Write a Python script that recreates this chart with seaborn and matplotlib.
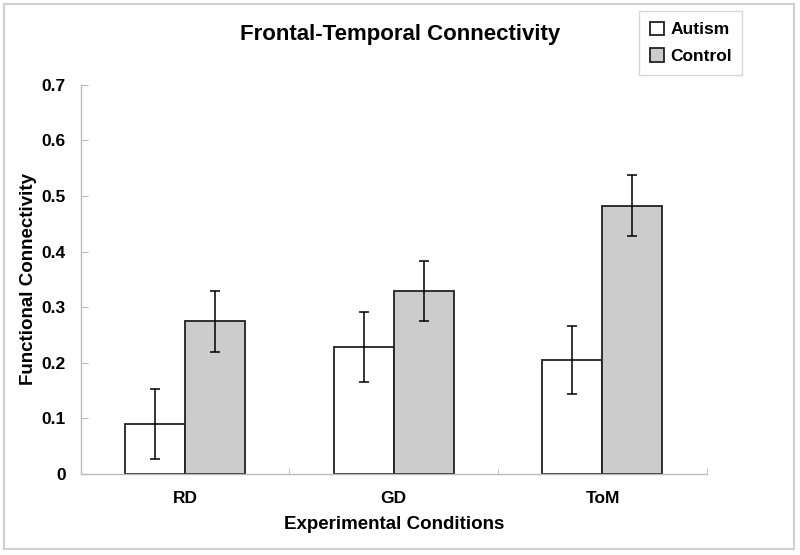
import pandas as pd
import matplotlib
matplotlib.use('Agg')
import matplotlib.pyplot as plt
import seaborn as sns
from matplotlib.patches import Rectangle

conditions = ['RD', 'GD', 'ToM']
groups = ['Autism', 'Control']
autism_mean = [0.090, 0.228, 0.205]
control_mean = [0.275, 0.330, 0.483]
autism_err = [0.063, 0.063, 0.062]
control_err = [0.055, 0.054, 0.055]

df = pd.DataFrame({
    'condition': conditions * 2,
    'group': ['Autism'] * 3 + ['Control'] * 3,
    'value': autism_mean + control_mean,
})
errs = {'Autism': autism_err, 'Control': control_err}

sns.set_style('white')
plt.rcParams['font.family'] = ['Liberation Sans', 'DejaVu Sans']
plt.rcParams['font.weight'] = 'bold'
plt.rcParams['text.color'] = 'black'
plt.rcParams['xtick.labelcolor'] = 'black'
plt.rcParams['ytick.labelcolor'] = 'black'
plt.rcParams['axes.labelcolor'] = 'black'

fig = plt.figure(figsize=(8, 5.55), dpi=100)
ax = fig.add_axes([0.101, 0.146, 0.7825, 0.701])

sns.barplot(data=df, x='condition', y='value', hue='group', order=conditions,
            hue_order=groups, palette={'Autism': 'white', 'Control': '#cccccc'},
            edgecolor='#222222', linewidth=1.3, width=0.575, errorbar=None,
            saturation=1, ax=ax)

for container, g in zip(ax.containers, groups):
    xs = [p.get_x() + p.get_width() / 2 for p in container]
    ys = [p.get_height() for p in container]
    ax.errorbar(xs, ys, yerr=errs[g], fmt='none', ecolor='black',
                elinewidth=1.1, capsize=3.5, capthick=1.1)

ax.set_ylim(0, 0.7)
ax.set_xlim(-0.5, 2.5)
ax.set_yticks([0, 0.1, 0.2, 0.3, 0.4, 0.5, 0.6, 0.7])
ax.set_yticklabels(['0', '0.1', '0.2', '0.3', '0.4', '0.5', '0.6', '0.7'])
ax.set_xticks([-0.5, 0.5, 1.5, 2.5], minor=True)
ax.tick_params(axis='y', which='major', left=True, direction='in', length=5,
               color='#bbbbbb', labelsize=12.5, pad=11)
ax.tick_params(axis='x', which='major', bottom=False, labelsize=12.5, pad=9)
ax.tick_params(axis='x', which='minor', bottom=True, direction='in', length=4,
               color='#bbbbbb')
for s in ['top', 'right']:
    ax.spines[s].set_visible(False)
for s in ['left', 'bottom']:
    ax.spines[s].set_color('#bbbbbb')
    ax.spines[s].set_linewidth(1)

ax.set_xlabel('Experimental Conditions', fontsize=13.5, fontweight='bold', labelpad=7)
ax.set_ylabel('Functional Connectivity', fontsize=13.5, fontweight='bold', labelpad=3)

fig.text(0.5, 0.938, 'Frontal-Temporal Connectivity', ha='center', va='center',
         fontsize=16, fontweight='bold')

leg = ax.legend(loc='upper left', bbox_to_anchor=(0.799, 0.98),
                bbox_transform=fig.transFigure, fontsize=12.5, frameon=True,
                fancybox=False, edgecolor='#cccccc', handlelength=0.8,
                handleheight=0.8, handletextpad=0.4, borderpad=0.6,
                labelspacing=0.65, borderaxespad=0)
leg.get_frame().set_linewidth(1)

fig.patches.append(Rectangle((0.005, 0.0108), 0.9875, 0.982, transform=fig.transFigure,
                             fill=False, edgecolor='#d0d0d0', linewidth=1.5))

fig.savefig('out.png', dpi=100)
